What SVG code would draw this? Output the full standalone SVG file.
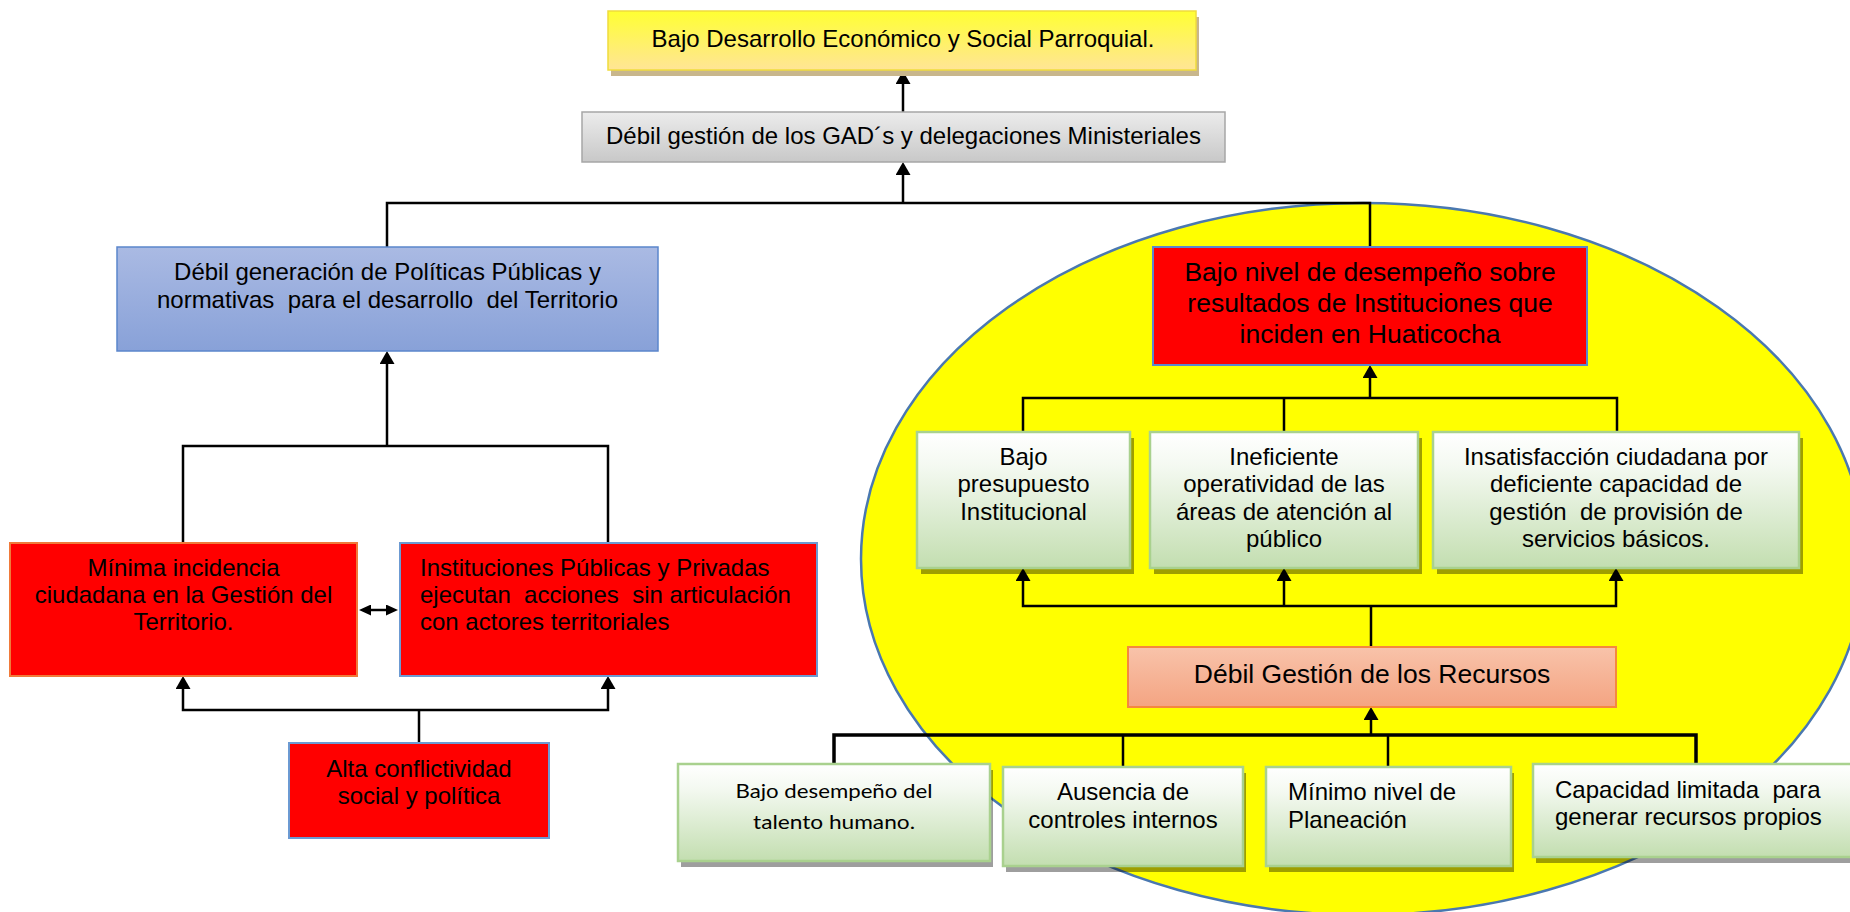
<svg xmlns="http://www.w3.org/2000/svg" width="1850" height="912" viewBox="0 0 1850 912">
<style>
text{font-family:"Liberation Sans",Arial,sans-serif;font-size:24px;fill:#000;white-space:pre}
.c{text-anchor:middle}
.big{font-size:26.5px}
.cal{font-family:Lato,"Liberation Sans",sans-serif;font-size:20px}
.ln{fill:none;stroke:#000;stroke-width:2.5}
.sh{fill:#000;opacity:0.38}
.red{fill:#ff0000}
.green{fill:url(#gGreen);stroke:#a9d18e;stroke-width:2.5}
</style>
<defs>
<linearGradient id="gYellow" x1="0" y1="0" x2="0" y2="1"><stop offset="0" stop-color="#ffff33"/><stop offset="1" stop-color="#ffe596"/></linearGradient>
<linearGradient id="gGray" x1="0" y1="0" x2="0" y2="1"><stop offset="0" stop-color="#ececec"/><stop offset="1" stop-color="#c8c8c8"/></linearGradient>
<linearGradient id="gBlue" x1="0" y1="0" x2="0" y2="1"><stop offset="0" stop-color="#aabae3"/><stop offset="1" stop-color="#88a1d8"/></linearGradient>
<linearGradient id="gGreen" x1="0" y1="0" x2="0" y2="1"><stop offset="0" stop-color="#ffffff"/><stop offset="0.25" stop-color="#f4f9f1"/><stop offset="1" stop-color="#c3deb0"/></linearGradient>
<linearGradient id="gSalmon" x1="0" y1="0" x2="0" y2="1"><stop offset="0" stop-color="#f8c3aa"/><stop offset="1" stop-color="#f4a482"/></linearGradient>
<marker id="ah" viewBox="0 0 13 15" refX="3" refY="7.5" markerWidth="13" markerHeight="15" markerUnits="userSpaceOnUse" orient="auto-start-reverse"><path d="M0,0 L13,7.5 L0,15 z" fill="#000"/></marker>
<marker id="ahs" viewBox="0 0 12 11" refX="2" refY="5.5" markerWidth="12" markerHeight="11" markerUnits="userSpaceOnUse" orient="auto-start-reverse"><path d="M0,0 L12,5.5 L0,11 z" fill="#000"/></marker>
</defs>
<rect width="1850" height="912" fill="#fff"/>

<g id="highlight-ellipse">
<ellipse cx="1363" cy="559" rx="502" ry="356" fill="#ffff00" stroke="#4a78b0" stroke-width="2.5"/>
</g>

<g id="connectors">
<path class="ln" d="M903,112 V81" marker-end="url(#ah)"/>
<path class="ln" d="M903,203 V172" marker-end="url(#ah)"/>
<path class="ln" d="M387,247 V203 H1370 V247"/>
<path class="ln" d="M387,446 V361" marker-end="url(#ah)"/>
<path class="ln" d="M183,543 V446 H608 V543"/>
<path class="ln" d="M183,686 V710 H608 V686" marker-start="url(#ah)" marker-end="url(#ah)"/>
<path class="ln" d="M419,710 V743"/>
<path class="ln" d="M369,610 H388" marker-start="url(#ahs)" marker-end="url(#ahs)"/>
<path class="ln" d="M1023,431 V398 H1617 V431"/>
<path class="ln" d="M1284,398 V431"/>
<path class="ln" d="M1370,398 V375" marker-end="url(#ah)"/>
<path class="ln" d="M1023,578 V606 H1616 V578" marker-start="url(#ah)" marker-end="url(#ah)"/>
<path class="ln" d="M1284,606 V578" marker-end="url(#ah)"/>
<path class="ln" d="M1371,606 V647"/>
<path class="ln" d="M834,764 V735 H1696 V764" style="stroke-width:3.5"/>
<path class="ln" d="M1123,735 V767"/>
<path class="ln" d="M1388,735 V767"/>
<path class="ln" d="M1371,735 V717" marker-end="url(#ah)"/>
</g>

<g id="n-bajo-desarrollo">
<rect x="611" y="17" width="588" height="59" fill="#c8b68c"/>
<rect x="608" y="11" width="588" height="59" fill="url(#gYellow)" stroke="#f0dc3c" stroke-width="1.5"/>
<text class="c" x="903" y="47">Bajo Desarrollo Económico y Social Parroquial.</text>
</g>

<g id="n-debil-gestion-gad">
<rect x="582" y="112" width="643" height="50" fill="url(#gGray)" stroke="#a6a6a6" stroke-width="1.5"/>
<text class="c" x="903.5" y="144">Débil gestión de los GAD´s y delegaciones Ministeriales</text>
</g>

<g id="n-politicas">
<rect x="117" y="247" width="541" height="104" fill="url(#gBlue)" stroke="#5b86cc" stroke-width="1.5"/>
<text class="c" x="387.5" y="280">Débil generación de Políticas Públicas y</text>
<text class="c" x="387.5" y="308">normativas  para el desarrollo  del Territorio</text>
</g>

<g id="n-minima-incidencia">
<rect x="10" y="543" width="347" height="133" class="red" stroke="#f07a3a" stroke-width="2"/>
<text class="c" x="183.5" y="576">Mínima incidencia</text>
<text class="c" x="183.5" y="603">ciudadana en la Gestión del</text>
<text class="c" x="183.5" y="630">Territorio.</text>
</g>

<g id="n-instituciones">
<rect x="400" y="543" width="417" height="133" class="red" stroke="#6c9ad2" stroke-width="2"/>
<text x="420" y="576">Instituciones Públicas y Privadas</text>
<text x="420" y="603">ejecutan  acciones  sin articulación</text>
<text x="420" y="630">con actores territoriales</text>
</g>

<g id="n-alta-conflictividad">
<rect x="289" y="743" width="260" height="95" class="red" stroke="#6c9ad2" stroke-width="2"/>
<text class="c" x="419" y="777">Alta conflictividad</text>
<text class="c" x="419" y="804">social y política</text>
</g>

<g id="n-bajo-nivel">
<rect x="1153" y="247" width="434" height="118" class="red" stroke="#5b86cc" stroke-width="2"/>
<text class="c big" x="1370" y="281">Bajo nivel de desempeño sobre</text>
<text class="c big" x="1370" y="312">resultados de Instituciones que</text>
<text class="c big" x="1370" y="343">inciden en Huaticocha</text>
</g>

<g id="n-presupuesto">
<rect class="sh" x="921" y="438" width="213" height="136"/>
<rect class="green" x="917" y="432" width="213" height="136"/>
<text class="c" x="1023.5" y="465">Bajo</text>
<text class="c" x="1023.5" y="492">presupuesto</text>
<text class="c" x="1023.5" y="520">Institucional</text>
</g>

<g id="n-ineficiente">
<rect class="sh" x="1154" y="438" width="268" height="136"/>
<rect class="green" x="1150" y="432" width="268" height="136"/>
<text class="c" x="1284" y="465">Ineficiente</text>
<text class="c" x="1284" y="492">operatividad de las</text>
<text class="c" x="1284" y="520">áreas de atención al</text>
<text class="c" x="1284" y="547">público</text>
</g>

<g id="n-insatisfaccion">
<rect class="sh" x="1437" y="438" width="366" height="136"/>
<rect class="green" x="1433" y="432" width="366" height="136"/>
<text class="c" x="1616" y="465">Insatisfacción ciudadana por</text>
<text class="c" x="1616" y="492">deficiente capacidad de</text>
<text class="c" x="1616" y="520">gestión  de provisión de</text>
<text class="c" x="1616" y="547">servicios básicos.</text>
</g>

<g id="n-debil-recursos">
<rect x="1128" y="647" width="488" height="60" fill="url(#gSalmon)" stroke="#f5883e" stroke-width="2"/>
<text class="c big" x="1372" y="683">Débil Gestión de los Recursos</text>
</g>

<g id="n-talento">
<rect class="sh" x="681" y="770" width="312" height="97"/>
<rect class="green" x="678" y="764" width="312" height="97"/>
<text class="c cal" x="834" y="798" textLength="197" lengthAdjust="spacingAndGlyphs">Bajo desempeño del</text>
<text class="c cal" x="834" y="829" textLength="162" lengthAdjust="spacingAndGlyphs">talento humano.</text>
</g>

<g id="n-controles">
<rect class="sh" x="1006" y="773" width="240" height="99"/>
<rect class="green" x="1003" y="767" width="240" height="99"/>
<text class="c" x="1123" y="800">Ausencia de</text>
<text class="c" x="1123" y="828">controles internos</text>
</g>

<g id="n-planeacion">
<rect class="sh" x="1269" y="773" width="245" height="99"/>
<rect class="green" x="1266" y="767" width="245" height="99"/>
<text x="1288" y="800">Mínimo nivel de</text>
<text x="1288" y="828">Planeación</text>
</g>

<g id="n-capacidad">
<rect class="sh" x="1536" y="770" width="330" height="93"/>
<rect class="green" x="1533" y="764" width="330" height="93"/>
<text x="1555" y="798">Capacidad limitada  para</text>
<text x="1555" y="825">generar recursos propios</text>
</g>
</svg>
